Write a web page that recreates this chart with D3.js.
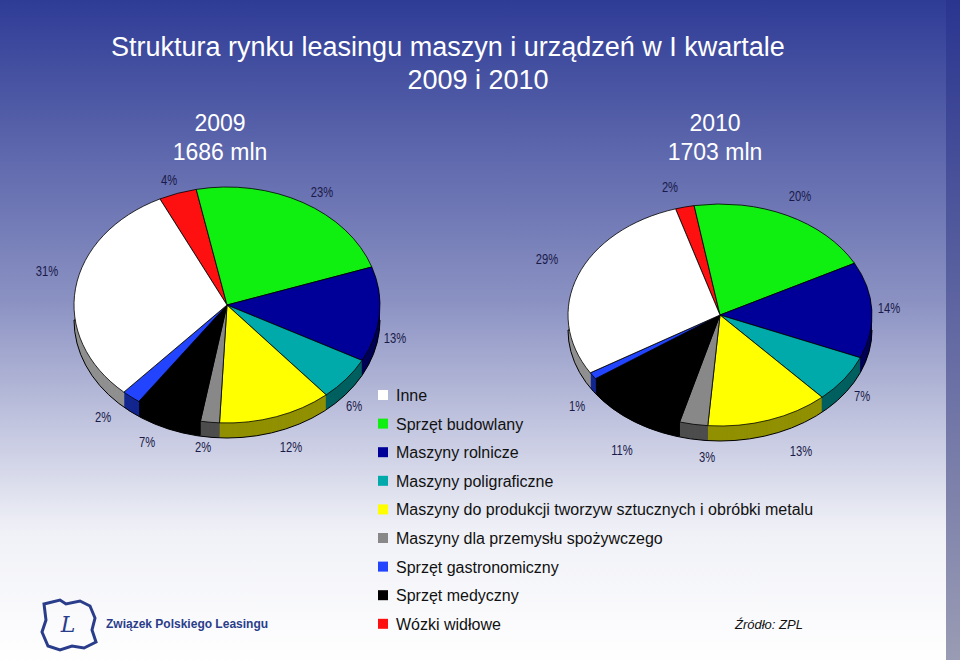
<!DOCTYPE html>
<html><head><meta charset="utf-8">
<script src="https://cdn.jsdelivr.net/npm/d3@7"></script>
<style>body{margin:0}svg{display:block;font-family:Arial,"Liberation Sans",sans-serif}</style>
</head><body><div id="chart"></div>
<script>
var categories = ["Wózki widłowe", "Sprzęt budowlany", "Maszyny rolnicze", "Maszyny poligraficzne",
  "Maszyny do produkcji tworzyw sztucznych i obróbki metalu", "Maszyny dla przemysłu spożywczego",
  "Sprzęt medyczny", "Sprzęt gastronomiczny", "Inne"];
var colors = ["#ff1010", "#10f010", "#000099", "#00aaaa", "#ffff00", "#888888", "#000000", "#2244ff", "#ffffff"];
var values2009 = [4, 23, 13, 6, 12, 2, 7, 2, 31];
var values2010 = [2, 20, 14, 7, 13, 3, 11, 1, 29];
var legendOrder = ["Inne", "Sprzęt budowlany", "Maszyny rolnicze", "Maszyny poligraficzne",
  "Maszyny do produkcji tworzyw sztucznych i obróbki metalu", "Maszyny dla przemysłu spożywczego",
  "Sprzęt gastronomiczny", "Sprzęt medyczny", "Wózki widłowe"];

var width = 960, height = 664;
var svg = d3.select("#chart").append("svg").attr("width", width).attr("height", height);

// background gradient
var defs = svg.append("defs");
var grad = defs.append("linearGradient").attr("id", "bg").attr("x1", 0).attr("y1", 0).attr("x2", 0).attr("y2", 1);
grad.append("stop").attr("offset", "0%").attr("stop-color", "#2f3c96");
grad.append("stop").attr("offset", "45%").attr("stop-color", "#8a91c2");
grad.append("stop").attr("offset", "80%").attr("stop-color", "#f0f1f7");
grad.append("stop").attr("offset", "100%").attr("stop-color", "#ffffff");
svg.append("rect").attr("width", width).attr("height", height).attr("fill", "url(#bg)");
var grad2 = defs.append("linearGradient").attr("id", "strip").attr("x1", 0).attr("y1", 0).attr("x2", 0).attr("y2", 1);
grad2.append("stop").attr("offset", "0%").attr("stop-color", "#2a3590");
grad2.append("stop").attr("offset", "100%").attr("stop-color", "#9a9cb4");
svg.append("rect").attr("x", 946).attr("width", 14).attr("height", 660).attr("fill", "url(#strip)");

// titles
svg.append("text").attr("x", 111).attr("y", 56).attr("fill", "white").attr("font-size", 27)
  .text("Struktura rynku leasingu maszyn i urządzeń w I kwartale");
svg.append("text").attr("x", 478).attr("y", 89).attr("fill", "white").attr("font-size", 27)
  .attr("text-anchor", "middle").text("2009 i 2010");
[["2009", "1686 mln", 220], ["2010", "1703 mln", 715]].forEach(function(t) {
  svg.append("text").attr("x", t[2]).attr("y", 131).attr("fill", "white").attr("font-size", 23)
    .attr("text-anchor", "middle").text(t[0]);
  svg.append("text").attr("x", t[2]).attr("y", 160).attr("fill", "white").attr("font-size", 23)
    .attr("text-anchor", "middle").text(t[1]);
});

function darker(c) { return d3.color(c).darker(1.6).formatHex(); }

function drawPie(values, cx, cy, rx, ry, startDeg, labelPos) {
  var depth = 15;
  var pie = d3.pie().sort(null).startAngle(startDeg * Math.PI / 180)
    .endAngle(startDeg * Math.PI / 180 + 2 * Math.PI);
  var arcs = pie(values);
  var arc = d3.arc().innerRadius(0).outerRadius(rx);
  var g = svg.append("g");
  // side wall, stacked layers
  for (var k = depth; k > 0; k--) {
    g.append("g").attr("transform", "translate(" + cx + "," + (cy + k) + ") scale(1," + (ry / rx) + ")")
      .selectAll("path").data(arcs).enter().append("path")
      .attr("d", arc).attr("fill", function(d, i) { return darker(colors[i]); });
  }
  var outline = g.append("g").attr("transform", "translate(" + cx + "," + (cy + depth) + ") scale(1," + (ry / rx) + ")");
  outline.append("path").attr("d", d3.arc().innerRadius(0).outerRadius(rx)({startAngle: Math.PI / 2, endAngle: 3 * Math.PI / 2}))
    .attr("fill", "none").attr("stroke", "#000").attr("stroke-width", 1).attr("vector-effect", "non-scaling-stroke");
  g.append("g").attr("transform", "translate(" + cx + "," + cy + ") scale(1," + (ry / rx) + ")")
    .selectAll("path").data(arcs).enter().append("path")
    .attr("d", arc).attr("fill", function(d, i) { return colors[i]; })
    .attr("stroke", "#000").attr("stroke-width", 0.8).attr("vector-effect", "non-scaling-stroke");
  arcs.forEach(function(d, i) {
    g.append("text").attr("x", labelPos[i][0]).attr("y", labelPos[i][1])
      .attr("text-anchor", "middle").attr("font-size", 14).attr("fill", "#1a1a4a")
      .attr("transform", "scale(0.8,1)").attr("transform-origin", labelPos[i][0] + " " + labelPos[i][1])
      .text(values[i] + "%");
  });
}

drawPie(values2009, 227, 305, 153, 118, -26,
  [[169, 185], [322, 197], [395, 343], [354, 411], [291, 452], [203, 452], [147, 447], [103, 422], [47, 276]]);
drawPie(values2010, 720, 315, 152, 111, -17,
  [[670, 192], [800, 201], [889, 313], [862, 401], [801, 456], [707, 462], [622, 455], [577, 411], [547, 264]]);

// legend
legendOrder.forEach(function(name, i) {
  var y = 395 + i * 28.6;
  svg.append("rect").attr("x", 378).attr("y", y - 5).attr("width", 10).attr("height", 10)
    .attr("fill", colors[categories.indexOf(name)]);
  svg.append("text").attr("x", 396).attr("y", y + 6).attr("font-size", 16).attr("fill", "#111").text(name);
});

// logo
svg.append("path")
  .attr("d", "M44,604 L60,600 L66,604 L80,601 L90,606 L95,618 L92,630 L96,642 L84,648 L72,646 L60,650 L48,646 L42,632 L46,620 Z")
  .attr("fill", "none").attr("stroke", "#2a3d8a").attr("stroke-width", 3);
svg.append("text").attr("x", 68).attr("y", 632).attr("text-anchor", "middle").attr("font-size", 22)
  .attr("font-style", "italic").attr("font-family", "DejaVu Serif, serif").attr("fill", "#2a3d8a").text("L");
svg.append("text").attr("x", 106).attr("y", 628).attr("font-size", 12).attr("font-weight", "bold")
  .attr("fill", "#2a3d8a").text("Związek Polskiego Leasingu");
svg.append("text").attr("x", 735).attr("y", 629).attr("font-size", 13).attr("font-style", "italic")
  .attr("fill", "#111").text("Źródło: ZPL");
</script></body></html>
